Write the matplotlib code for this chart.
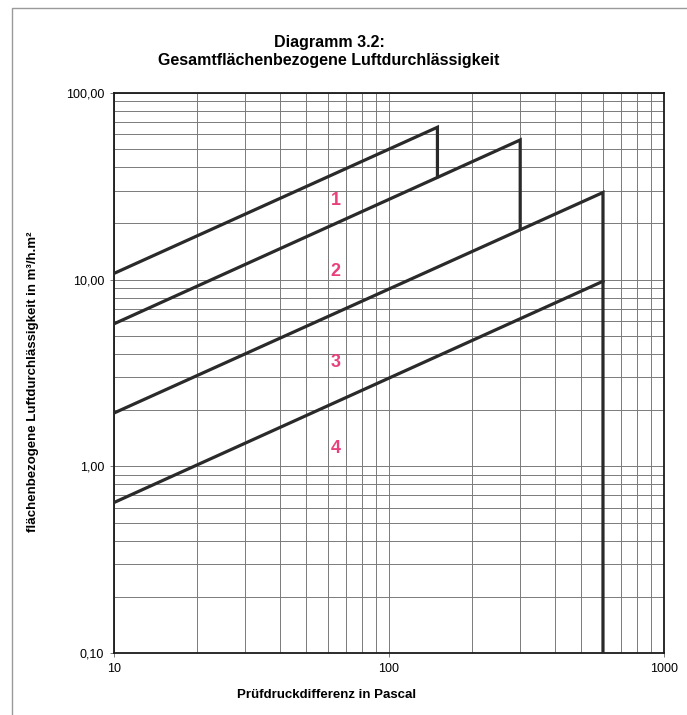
import matplotlib
matplotlib.use("Agg")
import matplotlib.pyplot as plt
from matplotlib.lines import Line2D
from matplotlib.ticker import FixedLocator, LogLocator, NullFormatter

plt.rcParams["font.family"] = ["Liberation Sans", "DejaVu Sans"]

# classes 1-4: straight line in log-log up to the max test pressure, then a vertical drop
curve_ids = ["1", "2", "3", "4"]
curve_x = [[10, 150, 150], [10, 300, 300], [10, 600, 600], [10, 600]]
curve_y = [[10.8, 65.5, 35.6], [5.8, 56.0, 18.6], [1.93, 29.3, 0.1], [0.64, 9.8]]
label_x = [64, 64, 64, 64]
label_y = [26.5, 11.0, 3.6, 1.25]

y_ticks = [0.1, 1, 10, 100]
y_tick_labels = ["0,10", "1,00", "10,00", "100,00"]
x_ticks = [10, 100, 1000]
x_tick_labels = ["10", "100", "1000"]

fig = plt.figure(figsize=(6.87, 7.15), dpi=100)
ax = fig.add_axes([0.166, 0.0867, 0.8005, 0.7833])

ax.set_xscale("log")
ax.set_yscale("log")
ax.set_xlim(10, 1000)
ax.set_ylim(0.1, 100)

for xs, ys in zip(curve_x, curve_y):
    ax.plot(xs, ys, color="#2a2a2a", lw=2.3, solid_joinstyle="miter", zorder=3)
for t, lx, ly in zip(curve_ids, label_x, label_y):
    ax.text(lx, ly, t, color="#e8407c", fontsize=13, fontweight="bold",
            ha="center", va="center", zorder=4)

ax.xaxis.set_minor_locator(LogLocator(base=10, subs=range(2, 10)))
ax.yaxis.set_minor_locator(LogLocator(base=10, subs=range(2, 10)))
ax.xaxis.set_minor_formatter(NullFormatter())
ax.yaxis.set_minor_formatter(NullFormatter())
ax.xaxis.set_major_locator(FixedLocator(x_ticks))
ax.yaxis.set_major_locator(FixedLocator(y_ticks))
ax.set_xticklabels(x_tick_labels)
ax.set_yticklabels(y_tick_labels)
ax.grid(which="both", color="#7a7a7a", lw=0.7)
ax.tick_params(which="major", length=3, width=0.7, color="#7a7a7a", labelsize=9, pad=4)
ax.tick_params(which="minor", length=0)
for s in ax.spines.values():
    s.set_linewidth(1.3)
    s.set_color("#1a1a1a")

ax.set_xlabel("Prüfdruckdifferenz in Pascal", fontsize=9.5, fontweight="bold")
ax.xaxis.set_label_coords(0.387, -0.065)
ax.set_ylabel("flächenbezogene Luftdurchlässigkeit in m³/h.m²", fontsize=9.5,
              fontweight="bold")
ax.yaxis.set_label_coords(-0.137, 0.485)

fig.text(0.479, 0.94, "Diagramm 3.2:", ha="center", va="center", fontsize=11.5, fontweight="bold")
fig.text(0.479, 0.915, "Gesamtflächenbezogene Luftdurchlässigkeit", ha="center", va="center",
         fontsize=11.5, fontweight="bold")

# page frame (left and top edges only)
fig.add_artist(Line2D([0.0175, 0.0175, 1.0], [0.0, 0.989, 0.989], transform=fig.transFigure,
                      color="#9a9a9a", lw=1.0))

fig.savefig("out.png", dpi=100, facecolor="white")
